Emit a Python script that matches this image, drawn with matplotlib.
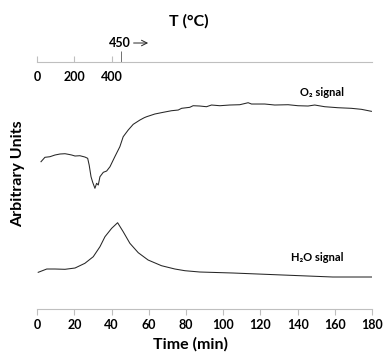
import matplotlib
matplotlib.use('Agg')
import matplotlib.pyplot as plt
from matplotlib.transforms import blended_transform_factory

plt.rcParams['font.family'] = ['Lato', 'DejaVu Sans']

# O2 signal (arbitrary units) vs time (min)
o2_time = [2.0, 4.1, 6.8, 9.5, 12.2, 14.9, 16.7, 18.5, 20.3, 22.9, 25.6, 27.1,
           27.9, 28.9, 29.8, 31.0, 31.9, 32.8, 33.7, 35.5, 37.3, 39.1, 41.7,
           44.4, 46.2, 48.9, 51.6, 55.2, 57.5, 58.8, 63.2, 67.7, 72.2, 75.8,
           77.6, 82.0, 83.8, 87.4, 91.0, 93.7, 98.2, 103.5, 108.9, 113.4,
           115.2, 119.1, 122.3, 127.7, 134.9, 140.2, 145.6, 149.2, 154.6,
           161.7, 168.9, 174.3, 179.7]
o2_signal = [14.73, 15.17, 15.23, 15.40, 15.50, 15.53, 15.47, 15.40, 15.30,
             15.33, 15.20, 15.07, 14.40, 13.23, 12.67, 12.07, 12.57, 12.40,
             13.23, 13.67, 13.80, 14.23, 15.23, 16.23, 17.23, 17.90, 18.47,
             18.90, 19.13, 19.23, 19.50, 19.67, 19.83, 19.90, 20.07, 20.17,
             20.33, 20.30, 20.23, 20.40, 20.33, 20.40, 20.43, 20.63, 20.50,
             20.50, 20.50, 20.40, 20.43, 20.33, 20.30, 20.40, 20.23, 20.13,
             20.07, 19.97, 19.77]

# H2O signal
h2o_time = [0.5, 5.1, 9.5, 14.9, 20.3, 25.6, 30.1, 33.7, 36.4, 40.0, 43.2,
            46.2, 49.8, 54.3, 59.6, 66.8, 74.0, 79.4, 87.4, 105.2, 132.0,
            158.9, 179.8]
h2o_signal = [3.67, 4.00, 4.00, 3.97, 4.10, 4.57, 5.23, 6.23, 7.23, 8.07, 8.63,
              7.73, 6.57, 5.63, 4.90, 4.33, 4.00, 3.83, 3.70, 3.60, 3.40,
              3.20, 3.20]

time_ticks = [0, 20, 40, 60, 80, 100, 120, 140, 160, 180]
temp_ticks = [0, 200, 400]
temp_mark = 450

GRAY = '#bfbfbf'
LINE = '#262626'

fig = plt.figure(figsize=(3.84, 3.54), dpi=100)
ax = fig.add_axes([0.0971, 0.1271, 0.8716, 0.6977])
ax.plot(o2_time, o2_signal, color=LINE, lw=0.75)
ax.plot(h2o_time, h2o_signal, color=LINE, lw=0.75)
ax.set_xlim(0, 180)
ax.set_ylim(0, 24.7)
for s in ['top', 'right', 'left']:
    ax.spines[s].set_visible(False)
ax.spines['bottom'].set_color(GRAY)
ax.set_yticks([])
ax.set_xticks(time_ticks)
ax.tick_params(axis='x', direction='out', length=4, color=GRAY, pad=3.5,
               labelsize=9)
for lab in ax.get_xticklabels():
    lab.set_fontweight('bold')

ax.text(153, 21.7, 'O₂ signal', ha='center', va='center', fontsize=8,
        fontweight='bold')
ax.text(150.3, 5.2, 'H₂O signal', ha='center', va='center', fontsize=8,
        fontweight='bold')

# temperature axis on top
axt = fig.add_axes([0.0971, 0.8249, 0.8716, 0.001])
axt.set_xlim(0, 1800)
axt.set_ylim(0, 1)
for s in ['top', 'right', 'left']:
    axt.spines[s].set_visible(False)
axt.spines['bottom'].set_color(GRAY)
axt.set_yticks([])
axt.set_xticks(temp_ticks)
axt.set_xticks([temp_mark], minor=True)
axt.tick_params(axis='x', which='major', direction='in', length=4, color=GRAY,
                pad=6.5, labelsize=9)
axt.tick_params(axis='x', which='minor', direction='in', length=8,
                color='#595959', width=0.6)
for lab in axt.get_xticklabels():
    lab.set_fontweight('bold')

tr = blended_transform_factory(axt.transData, fig.transFigure)
axt.text(442, 0.8785, '450', transform=tr, ha='center', va='center',
         fontsize=9, fontweight='bold')
axt.annotate('', xy=(611, 0.8785), xytext=(503, 0.8785), xycoords=tr,
             textcoords=tr, arrowprops=dict(arrowstyle='->', color='#262626',
                                            lw=0.7))

fig.text(0.491, 0.9407, 'T (°C)', ha='center', va='center', fontsize=11.5,
         fontweight='bold')
fig.text(0.495, 0.026, 'Time (min)', ha='center', va='center', fontsize=11.5,
         fontweight='bold')
fig.text(0.047, 0.508, 'Arbitrary Units', ha='center', va='center',
         rotation=90, fontsize=11.5, fontweight='bold')

fig.savefig('out.png', dpi=100)
